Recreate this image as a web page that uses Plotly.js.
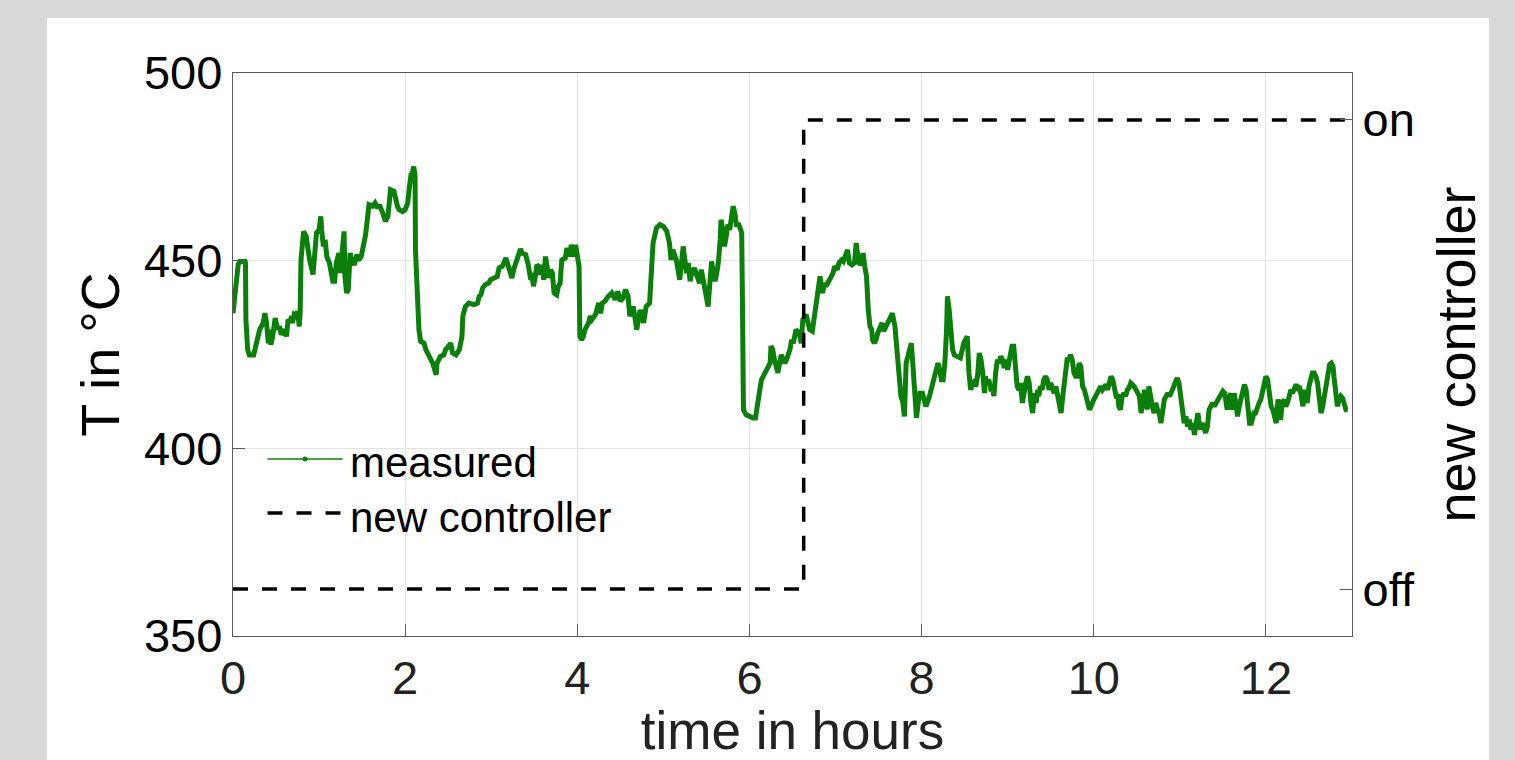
<!DOCTYPE html>
<html>
<head>
<meta charset="utf-8">
<script src="https://cdn.plot.ly/plotly-3.0.1.min.js"></script>
<style>
  html, body { margin: 0; padding: 0; background: #d9d9d9; width: 1515px; height: 760px; overflow: hidden; }
  #chart { position: absolute; left: 47px; top: 18px; width: 1442px; height: 742px; background: #ffffff; }
</style>
</head>
<body>
<div id="chart"></div>
<script>
// ---- data ----
const timeHours = [
0.00,0.02,0.06,0.08,0.14,0.145,0.15,0.17,0.19,0.24,0.27,0.31,0.35,0.37,0.39,0.41,0.42,0.44,0.46,0.49,0.52,0.54,0.56,0.60,0.62,0.64,0.66,0.68,0.69,0.71,0.73,0.75,0.77,0.78,0.79,0.82,0.85,0.89,0.93,0.95,0.97,1.00,1.02,1.03,1.05,1.07,1.09,1.12,1.16,1.18,1.20,1.23,1.24,1.26,1.29,1.30,1.32,1.34,1.36,1.38,1.41,1.44,1.46,1.49,1.51,1.53,1.54,1.56,1.58,1.62,1.65,1.68,1.70,1.74,1.77,1.80,1.81,1.83,1.87,1.89,1.91,1.93,1.97,2.00,2.03,2.05,2.07,2.08,2.10,2.11,2.115,2.12,2.14,2.16,2.18,2.22,2.24,2.28,2.32,2.36,2.37,2.41,2.45,2.47,2.51,2.53,2.55,2.59,2.63,2.66,2.67,2.70,2.74,2.80,2.84,2.86,2.88,2.90,2.93,2.97,2.99,3.03,3.07,3.09,3.13,3.17,3.19,3.20,3.24,3.26,3.30,3.34,3.36,3.40,3.43,3.46,3.47,3.49,3.51,3.53,3.55,3.57,3.59,3.61,3.63,3.65,3.67,3.69,3.71,3.73,3.76,3.78,3.80,3.82,3.86,3.88,3.91,3.93,3.96,3.98,4.00,4.02,4.03,4.05,4.07,4.09,4.13,4.15,4.17,4.21,4.25,4.27,4.29,4.32,4.36,4.40,4.44,4.47,4.50,4.53,4.56,4.59,4.61,
4.65,4.69,4.73,4.77,4.80,4.84,4.86,4.88,4.92,4.96,5.00,5.04,5.07,5.09,5.11,5.15,5.19,5.21,5.23,5.25,5.27,5.29,5.31,5.33,5.36,5.38,5.42,5.44,5.46,5.50,5.52,5.54,5.56,5.58,5.60,5.62,5.64,5.66,5.67,5.69,5.71,5.73,5.75,5.77,5.79,5.81,5.83,5.85,5.87,5.89,5.91,5.92,5.93,5.96,6.00,6.04,6.07,6.10,6.12,6.14,6.16,6.20,6.24,6.25,6.27,6.29,6.31,6.33,6.35,6.37,6.41,6.43,6.47,6.49,6.51,6.54,6.58,6.60,6.62,6.66,6.68,6.70,6.73,6.76,6.80,6.82,6.84,6.85,6.87,6.89,6.93,6.97,6.99,7.02,7.04,7.07,7.09,7.12,7.14,7.16,7.19,7.22,7.24,7.26,7.28,7.30,7.32,7.34,7.36,7.38,7.40,7.42,7.43,7.45,7.47,7.49,7.51,7.54,7.56,7.59,7.63,7.66,7.69,7.71,7.72,7.74,7.76,7.78,7.80,7.82,7.84,7.86,7.88,7.90,7.92,7.94,7.96,7.98,8.01,8.03,8.05,8.09,8.11,8.15,8.19,8.21,8.23,8.25,8.27,8.29,8.30,8.32,8.34,
8.36,8.38,8.42,8.45,8.49,8.53,8.55,8.57,8.59,8.61,8.63,8.65,8.67,8.69,8.71,8.73,8.74,8.76,8.78,8.80,8.82,8.84,8.86,8.88,8.90,8.92,8.94,8.96,8.98,9.00,9.02,9.04,9.05,9.07,9.09,9.11,9.13,9.15,9.17,9.19,9.21,9.23,9.25,9.27,9.29,9.31,9.33,9.35,9.36,9.38,9.40,9.42,9.44,9.46,9.48,9.50,9.52,9.54,9.56,9.58,9.60,9.62,9.64,9.66,9.67,9.69,9.71,9.73,9.75,9.77,9.79,9.81,9.83,9.85,9.87,9.89,9.91,9.93,9.95,9.97,9.98,10.00,10.04,10.06,10.08,10.10,10.12,10.14,10.16,10.18,10.20,10.22,10.24,10.26,10.28,10.29,10.31,10.33,10.35,10.37,10.39,10.41,10.43,10.45,10.47,10.49,10.51,10.53,10.55,10.57,10.59,10.61,10.62,10.64,10.66,10.68,10.70,10.72,10.74,10.76,10.78,10.80,10.82,10.84,10.86,10.88,10.90,10.91,10.93,10.95,10.97,10.99,11.01,11.03,11.05,11.07,11.09,11.11,11.13,11.15,11.17,11.19,11.21,11.22,11.24,11.26,11.28,11.30,11.32,11.34,11.36,11.38,11.40,11.42,11.44,11.46,11.48,11.50,11.52,11.53,11.55,11.57,11.59,11.61,11.63,11.65,11.67,11.69,11.71,11.73,11.75,11.77,11.79,11.81,11.83,11.84,11.86,11.88,11.90,11.92,11.94,11.96,11.98,12.00,12.02,12.04,12.06,12.08,12.10,12.12,12.14,12.15,12.17,12.19,12.21,12.23,12.25,12.27,12.29,12.31,12.33,12.35,12.37,12.39,12.41,12.43,12.45,12.46,12.48,12.50,12.52,12.54,12.56,12.58,12.60,12.62,12.64,12.66,12.68,12.70,12.72,12.74,12.76,12.78,12.79,12.81,12.83,12.85,12.87,12.89,12.91,12.93,12.95
];
const tempMeasured = [
436.0,441.0,448.9,449.8,449.8,449.4,434.3,426.3,424.9,424.9,428.0,431.6,433.4,436.0,433.4,428.0,431.6,427.6,429.8,434.7,431.6,432.5,430.3,431.6,429.8,434.3,433.4,435.2,433.4,435.6,435.2,436.5,432.5,436.0,450.2,457.8,456.5,450.2,446.3,452.9,457.4,458.2,461.8,458.2,453.8,455.6,451.1,449.4,444.5,444.5,449.4,452.0,446.7,450.2,457.8,445.8,441.4,442.3,452.0,450.2,448.9,451.6,450.2,451.1,452.9,455.6,456.9,460.9,464.9,464.5,465.4,464.0,464.9,462.7,460.5,461.8,466.2,468.9,468.5,466.2,464.5,463.6,463.1,463.6,465.4,469.8,473.3,472.9,475.1,474.2,472.5,452.9,439.6,431.6,428.5,428.0,426.3,424.1,422.7,419.6,422.7,424.5,424.9,426.3,427.2,428.0,425.4,424.9,426.3,429.8,435.2,437.8,438.7,438.3,438.7,440.5,440.9,442.7,443.6,444.0,444.9,445.4,445.8,448.0,448.5,450.7,448.9,448.9,445.4,447.6,450.2,453.1,452.0,451.6,448.9,444.9,446.7,443.2,445.4,448.9,448.5,446.3,448.9,444.9,451.1,447.6,445.4,447.6,446.7,441.4,440.9,443.2,444.0,450.2,450.7,453.4,451.1,454.2,451.1,454.2,451.1,448.5,429.8,428.9,429.8,431.6,433.4,435.2,434.3,435.6,438.7,436.0,438.7,439.2,440.5,441.4,439.6,441.8,439.2,440.0,442.3,440.5,435.2,
437.8,431.6,436.9,433.4,437.8,438.7,450.2,454.7,458.7,459.6,459.1,457.8,454.7,450.2,452.9,450.2,444.9,450.2,453.8,450.2,446.7,449.4,444.5,446.7,448.0,446.7,444.0,447.6,444.9,441.4,437.8,444.0,449.8,446.7,444.5,446.7,449.8,455.6,460.9,458.2,453.8,456.5,459.6,458.2,460.9,464.5,462.7,459.1,460.0,458.2,457.4,435.2,410.3,409.0,408.5,408.1,408.1,413.8,415.6,418.3,419.2,420.9,422.7,427.2,426.3,423.6,420.9,420.1,422.7,424.9,422.7,423.6,426.3,428.9,428.0,431.6,430.7,428.0,434.3,435.6,433.4,431.6,431.2,436.9,444.0,445.8,442.3,441.4,444.0,443.2,444.9,446.7,448.5,447.6,449.4,450.2,449.8,452.0,452.9,449.4,448.9,449.4,454.7,451.1,448.9,449.4,452.0,448.5,445.8,436.9,432.5,431.6,428.9,428.0,428.9,430.7,431.6,433.4,431.2,432.5,434.3,436.0,432.5,426.3,425.4,417.4,413.8,412.5,408.5,422.7,424.5,425.4,428.0,421.8,412.1,408.1,412.1,414.7,414.7,413.0,411.2,413.8,415.6,419.2,422.7,420.9,418.3,418.3,422.7,431.6,440.5,436.9,430.0,
426.3,424.9,424.5,424.1,428.1,429.8,420.1,415.6,417.4,417.8,416.5,419.2,425.4,423.6,420.1,414.7,419.2,417.4,418.3,416.1,416.5,413.9,420.1,423.6,422.7,424.5,423.6,421.4,423.6,420.9,423.6,425.4,427.2,427.2,421.8,416.5,415.6,417.4,412.1,415.6,417.4,419.2,417.4,412.1,409.4,414.7,412.1,415.6,413.9,416.5,415.6,418.3,419.2,418.3,415.6,417.4,415.6,414.7,416.5,413.9,410.3,409.4,413.9,417.4,420.9,423.6,423.6,424.9,423.6,420.1,419.2,419.2,422.7,421.8,416.5,415.6,413.9,411.2,410.3,411.2,412.1,413.0,414.7,415.6,416.5,415.6,416.5,417.0,415.6,417.4,419.2,418.3,415.6,413.9,413.9,411.2,410.3,413.9,414.7,413.9,415.6,416.1,417.4,417.0,416.5,415.6,414.7,413.9,409.4,412.1,415.6,413.9,410.3,416.5,413.0,411.2,409.4,412.1,410.3,409.4,406.7,411.2,413.0,413.9,414.7,413.9,414.7,415.6,416.5,417.8,418.7,417.4,413.9,410.3,406.7,408.5,405.8,407.6,405.0,406.7,403.6,406.7,409.4,407.6,405.0,406.7,405.0,404.1,405.8,410.3,411.2,412.1,411.2,412.1,413.0,413.9,414.7,415.2,414.7,413.0,410.3,413.0,414.7,410.3,414.7,412.1,408.5,411.2,413.0,415.6,417.0,415.6,410.3,406.7,406.7,407.6,409.4,409.4,411.2,412.1,413.0,415.6,417.4,419.2,418.3,413.9,411.2,410.3,408.5,406.7,413.0,412.1,407.6,412.1,413.0,411.2,412.1,413.9,415.6,414.7,416.5,417.0,416.1,416.5,413.9,411.2,415.6,414.7,412.1,416.5,418.3,420.1,420.1,419.2,417.4,413.0,409.4,411.2,413.9,415.6,420.1,422.3,422.7,421.8,419.2,415.6,411.2,413.0,413.9,413.4,412.1,410.3,410.3
];
const controllerTime  = [0, 6.63, 6.63, 12.95];
const controllerState = [0, 0, 1, 1];          // 0 = off, 1 = on
const xTickValues = [0, 2, 4, 6, 8, 10, 12];
const yTickValues = [350, 400, 450, 500];
const stateTickValues = [0, 1];
const stateTickLabels = ['off', 'on'];
const legendLabels = ['measured', 'new controller'];

// ---- styling ----
const FONT = '"Liberation Sans", Arial, Helvetica, sans-serif';
const GREEN = '#0a7f0a';
const AXIS = '#5a5a5a';
const GRID = '#e3e3e3';

const traces = [
  {
    x: timeHours, y: tempMeasured, type: 'scatter', mode: 'lines',
    line: { color: GREEN, width: 5 }, name: legendLabels[0], xaxis: 'x', yaxis: 'y'
  },
  {
    x: controllerTime, y: controllerState, type: 'scatter', mode: 'lines',
    line: { color: '#000000', width: 3.5, dash: '15px,14px' }, name: legendLabels[1], xaxis: 'x', yaxis: 'y2'
  }
];

// custom legend (paper coordinates)
const W = 1119, H = 563;
function px2x(p) { return (p - 233.5) / W; }
function py2y(p) { return (636 - p) / H; }

const layout = {
  width: 1442, height: 742,
  margin: { l: 186, r: 137, t: 55, b: 124, pad: 0 },
  paper_bgcolor: '#ffffff', plot_bgcolor: '#ffffff',
  showlegend: false,
  font: { family: FONT, color: '#000000' },
  xaxis: {
    range: [0, 13], tickvals: xTickValues, ticks: 'inside', ticklen: 12, tickcolor: AXIS, tickwidth: 1,
    showline: true, linecolor: AXIS, linewidth: 1.2, mirror: true,
    showgrid: true, gridcolor: GRID, gridwidth: 1, zeroline: false,
    tickfont: { family: FONT, size: 47, color: '#222' },
    title: { text: 'time in hours', font: { family: FONT, size: 53, color: '#222' }, standoff: 11 }
  },
  yaxis: {
    range: [350, 500], tickvals: yTickValues, ticks: 'inside', ticklen: 12, tickcolor: AXIS, tickwidth: 1,
    showline: true, linecolor: AXIS, linewidth: 1.2, mirror: true,
    showgrid: true, gridcolor: GRID, gridwidth: 1, zeroline: false,
    tickfont: { family: FONT, size: 47, color: '#000' },
    title: { text: 'T in °C', font: { family: FONT, size: 54, color: '#000' }, standoff: 7 }
  },
  yaxis2: {
    overlaying: 'y', side: 'right', range: [-0.1, 1.1],
    tickvals: stateTickValues, ticktext: stateTickLabels,
    ticks: 'inside', ticklen: 12, tickcolor: AXIS, tickwidth: 1,
    showline: true, linecolor: AXIS, linewidth: 1.2, showgrid: false, zeroline: false,
    tickfont: { family: FONT, size: 47, color: '#000' },
    title: { text: 'new controller', font: { family: FONT, size: 54, color: '#000' }, standoff: 23 }
  },
  shapes: [
    { type: 'line', xref: 'paper', yref: 'paper', x0: px2x(268), x1: px2x(343), y0: py2y(459), y1: py2y(459),
      line: { color: GREEN, width: 1.3 } },
    { type: 'circle', xref: 'paper', yref: 'paper', x0: px2x(303), x1: px2x(308), y0: py2y(461.5), y1: py2y(456.5),
      fillcolor: GREEN, line: { color: GREEN, width: 0 } },
    { type: 'line', xref: 'paper', yref: 'paper', x0: px2x(268), x1: px2x(343), y0: py2y(513), y1: py2y(513),
      line: { color: '#000000', width: 3.5, dash: '15px,14px' } }
  ],
  annotations: [
    { xref: 'paper', yref: 'paper', x: px2x(348), y: py2y(462), xanchor: 'left', yanchor: 'middle',
      text: legendLabels[0], showarrow: false, font: { family: FONT, size: 42, color: '#000' } },
    { xref: 'paper', yref: 'paper', x: px2x(348), y: py2y(517), xanchor: 'left', yanchor: 'middle',
      text: legendLabels[1], showarrow: false, font: { family: FONT, size: 42, color: '#000' } }
  ]
};

Plotly.newPlot('chart', traces, layout, { staticPlot: true, displayModeBar: false });
</script>
</body>
</html>
